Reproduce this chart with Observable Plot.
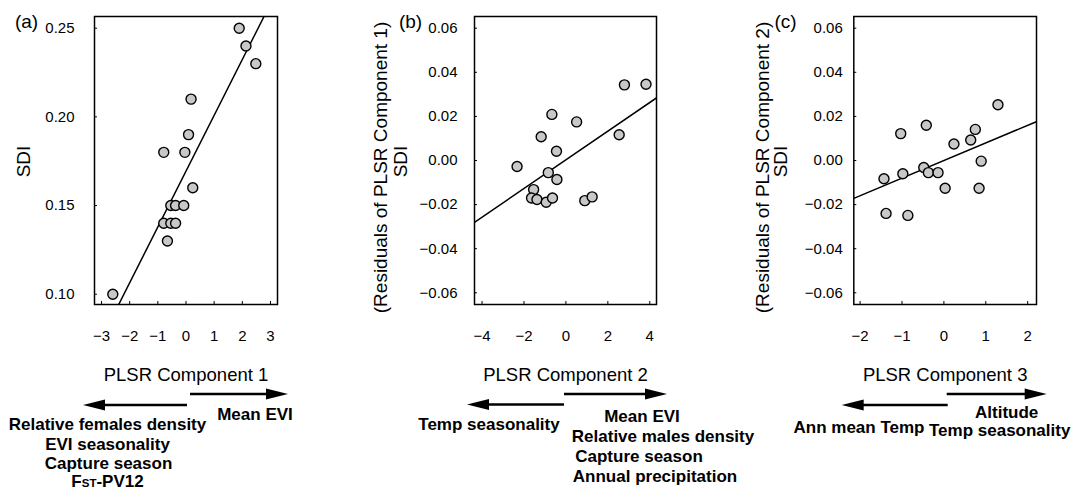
<!DOCTYPE html>
<html><head><meta charset="utf-8">
<script src="https://cdn.jsdelivr.net/npm/d3@7"></script>
<script src="https://cdn.jsdelivr.net/npm/@observablehq/plot@0.6"></script>
<style>
body{margin:0;background:#fff;font-family:"Liberation Sans",Arial,sans-serif}
#chart{position:relative;width:1081px;height:491px;overflow:hidden;background:#fff}
#chart > svg{position:absolute;top:0;overflow:visible}
</style></head><body><div id="chart"></div>
<script>
// ---- Panel (a) data ----
const aX = [-2.6,-0.79,-0.66,-0.79,-0.54,-0.37,-0.54,-0.37,-0.08,-0.04,0.09,0.18,0.24,1.89,2.13,2.48];
const aY = [0.10,0.14,0.13,0.18,0.15,0.15,0.14,0.14,0.15,0.18,0.19,0.21,0.16,0.25,0.24,0.23];
const aFit = {slope: 0.03147, intercept: 0.1694};
const aXTicks = [-3,-2,-1,0,1,2,3];
const aYTicks = [0.10,0.15,0.20,0.25];
// ---- Panel (b) data ----
const bX = [-2.33,-1.54,-1.64,-1.38,-1.18,-0.94,-0.84,-0.67,-0.64,-0.45,-0.43,0.51,0.90,1.25,2.54,2.79,3.82];
const bY = [-0.0027,-0.0132,-0.0170,-0.0177,0.0108,-0.0189,-0.0055,0.0209,-0.0170,0.0042,-0.0086,0.0175,-0.0182,-0.0165,0.0117,0.0343,0.0346];
const bFit = {slope: 0.0065, intercept: 0.0003};
const bXTicks = [-4,-2,0,2,4];
// ---- Panel (c) data ----
const cX = [-1.43,-1.38,-1.03,-0.98,-0.86,-0.48,-0.42,-0.37,-0.14,0.03,0.24,0.64,0.75,0.89,0.84,1.29];
const cY = [-0.0083,-0.0240,0.0122,-0.0060,-0.0249,-0.0032,0.0160,-0.0055,-0.0055,-0.0126,0.0075,0.0093,0.0141,-0.0003,-0.0126,0.0253];
const cFit = {slope: 0.00798, intercept: 0.0};
const cXTicks = [-2,-1,0,1,2];
const resYTicks = [-0.06,-0.04,-0.02,0.00,0.02,0.04,0.06];

// descriptor labels under each axis
const aLeftNotes = ["Relative females density","EVI seasonality","Capture season","FST-PV12"];
const aRightNotes = ["Mean EVI"];
const bLeftNotes = ["Temp seasonality"];
const bRightNotes = ["Mean EVI","Relative males density","Capture season","Annual precipitation"];
const cLeftNotes = ["Ann mean Temp"];
const cRightNotes = ["Altitude","Temp seasonality"];

const panels = [
  {letter:"(a)", letterX:26, xs:aX, ys:aY, fit:aFit, xTicks:aXTicks, yTicks:aYTicks,
   xDomain:[-3.25,3.25], yDomain:[0.0942,0.2566], left:0, width:380, mL:94, mR:103, yPad:20,
   xLabel:"PLSR Component 1", yLabels:["SDI"], yLabelX:[23], yLabelDy:[1],
   leftNotes:aLeftNotes, rightNotes:aRightNotes,
   lay:{rA:[190,288,394], lA:[187,83,405], lc:[107.5,107.5,108.5,107.5], lb:[430,450,469,487], rc:[255], rb:[420]}},
  {letter:"(b)", letterX:30, xs:bX, ys:bY, fit:bFit, xTicks:bXTicks, yTicks:resYTicks,
   xDomain:[-4.36,4.32], yDomain:[-0.0653,0.0653], left:380, width:380, mL:94, mR:104, yPad:17,
   xLabel:"PLSR Component 2", yLabels:["(Residuals of PLSR Component 1)","SDI"], yLabelX:[0,20], yLabelDy:[7,1],
   leftNotes:bLeftNotes, rightNotes:bRightNotes,
   lay:{rA:[184,287,394], lA:[184,87,404.5], lc:[109], lb:[430], rc:[262,283,259,275], rb:[422,442,462,482]}},
  {letter:"(c)", letterX:25, xs:cX, ys:cY, fit:cFit, xTicks:cXTicks, yTicks:resYTicks,
   xDomain:[-2.15,2.21], yDomain:[-0.0653,0.0653], left:760, width:321, mL:93.3, mR:45, yPad:11,
   xLabel:"PLSR Component 3", yLabels:["(Residuals of PLSR Component 2)","SDI"], yLabelX:[2,20], yLabelDy:[7,1],
   leftNotes:cLeftNotes, rightNotes:cRightNotes,
   lay:{rA:[186.7,286.7,394], lA:[187.7,81.7,405], lc:[99], lb:[433], rc:[246.7,239.7], rb:[418,436]}}
];

const H = 491, mT = 16, mB = 187;
const chart = document.getElementById("chart");
const FONT = "'Liberation Sans', Arial, sans-serif";

panels.forEach((p) => {
  const data = p.xs.map((x, i) => ({x, y: p.ys[i]}));
  const fitLine = p.xDomain.map(x => ({x, y: p.fit.slope * x + p.fit.intercept}));
  const fw = p.width - p.mL - p.mR, fh = H - mT - mB;
  const marks = [
    Plot.axisX({ticks: p.xTicks, tickSize: 0, tickPadding: 26, tickFormat: d3.format("d"), label: null}),
    Plot.axisY({ticks: p.yTicks, tickSize: 0, tickPadding: p.yPad, tickFormat: d3.format(".2f"), label: null}),
    Plot.tickX(p.xTicks, {x: d => d, insetTop: fh - 3, stroke: "black", strokeWidth: 1}),
    Plot.tickY(p.yTicks, {y: d => d, insetRight: fw - 3, stroke: "black", strokeWidth: 1}),
    Plot.line(fitLine, {x: "x", y: "y", stroke: "black", strokeWidth: 1.5, clip: true}),
    Plot.dot(data, {x: "x", y: "y", r: 5, fill: "#c8c8c8", stroke: "black", strokeWidth: 1.4}),
    Plot.frame({stroke: "black", strokeWidth: 1.5}),
    Plot.text([p.xLabel], {frameAnchor: "bottom", lineAnchor: "middle", dy: 71, fontSize: 18.5, fill: "black"}),
    Plot.text([p.letter], {frameAnchor: "top-left", lineAnchor: "middle", textAnchor: "middle", dx: p.letterX - p.mL, dy: 5, fontSize: 19, fill: "black"})
  ];
  p.yLabels.forEach((lab, i) => {
    marks.push(Plot.text([lab], {frameAnchor: "left", textAnchor: "middle", lineAnchor: "middle",
      dx: p.yLabelX[i] - p.mL, dy: p.yLabelDy[i], rotate: -90, fontSize: 19, fill: "black"}));
  });
  const svg = Plot.plot({
    width: p.width, height: H,
    marginLeft: p.mL, marginRight: p.mR, marginTop: mT, marginBottom: mB,
    x: {domain: p.xDomain},
    y: {domain: p.yDomain},
    style: {fontFamily: FONT, fontSize: "15px", color: "black", background: "none", overflow: "visible"},
    marks
  });
  svg.style.left = p.left + "px";
  chart.appendChild(svg);

  // annotations: arrows + bold descriptor labels
  const g = d3.select(svg).append("g").attr("fill", "black");
  const L = p.lay;
  function arrow([x1, x2, y]) {
    const s = Math.sign(x2 - x1), hl = 22, hw = 5.5;
    g.append("line").attr("x1", x1).attr("x2", x2 - s * (hl - 2)).attr("y1", y).attr("y2", y)
      .attr("stroke", "black").attr("stroke-width", 2.6);
    g.append("path").attr("d", `M${x2},${y}L${x2 - s * hl},${y - hw}L${x2 - s * hl},${y + hw}Z`).attr("fill", "black");
  }
  arrow(L.rA); arrow(L.lA);
  function notes(list, cxs, bases) {
    list.forEach((t, i) => {
      const tx = g.append("text").attr("x", cxs[i]).attr("y", bases[i])
        .attr("text-anchor", "middle").attr("font-weight", "bold").attr("font-size", 17)
        .attr("font-family", FONT);
      if (t.startsWith("FST")) {
        tx.append("tspan").text("F");
        tx.append("tspan").attr("font-size", 11.5).text("ST");
        tx.append("tspan").text(t.slice(3));
      } else tx.text(t);
    });
  }
  notes(p.leftNotes, L.lc, L.lb);
  notes(p.rightNotes, L.rc, L.rb);
});
</script></body></html>
